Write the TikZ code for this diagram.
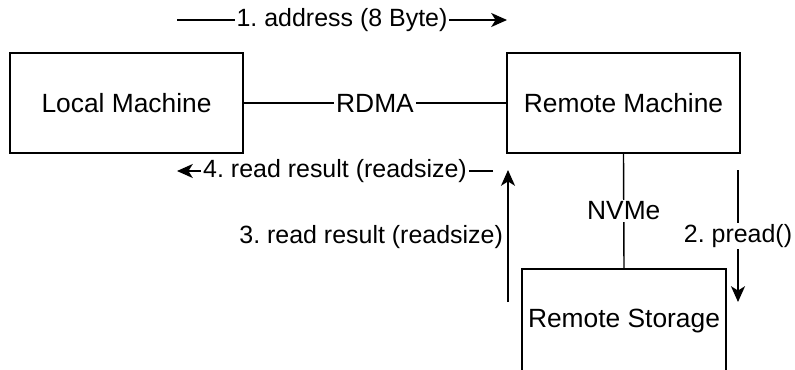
\documentclass[tikz,border=0pt]{standalone}
\usepackage{fontspec}
\setmainfont{Liberation Sans}
\usetikzlibrary{arrows.meta}
\usetikzlibrary{positioning}
\frenchspacing

\begin{document}
\begin{tikzpicture}[font=\fontsize{14.2}{17}\selectfont]
\useasboundingbox (0,0) rectangle (15.9,7.38);
\begin{scope}[every node/.style={rectangle,draw,line width=0.8pt,minimum width=4.66cm,minimum height=2cm,font=\fontsize{15}{18}\selectfont}]
    \node (L) at (2.53,5.32) {Local Machine};
    \node (R) at (12.47,5.32) {Remote Machine};
    \node[minimum width=3.96cm,minimum height=2.1cm] (S) at (12.48,0.95) {Remote Storage};
\end{scope}

% free ends of the message arrows
\coordinate (a1) at (3.54,6.98);
\coordinate (b1) at (10.14,6.98);
\coordinate (a2) at (14.76,3.98);
\coordinate (b2) at (14.76,1.34);
\coordinate (a3) at (10.16,1.34);
\coordinate (b3) at (10.16,3.98);
\coordinate (a4) at (9.86,3.96);
\coordinate (b4) at (3.54,3.96);

\begin{scope}[>={Stealth[black,length=9pt,width=8pt,inset=2.5pt]},
              every node/.style={fill=white,inner sep=1pt},
              every edge/.style={draw,line width=0.8pt}]
    \path [-] (L) edge node[font=\fontsize{15}{18}\selectfont] {RDMA} (R);
    \path [-] (R.south) edge node[font=\fontsize{15}{18}\selectfont] {NVMe} (S.north);
    \path [->] (a1) edge node {1. address (8 Byte)} (b1);
    \path [->] (a2) edge node {2. pread()} (b2);
    \path [->] (a3) edge (b3);
    \path [->] (a4) edge node {4. read result (readsize)} (b4);
\end{scope}
\node[anchor=east,inner sep=1pt] (t3) at (10.1,2.64) {3. read result (readsize)};
\end{tikzpicture}
\end{document}
